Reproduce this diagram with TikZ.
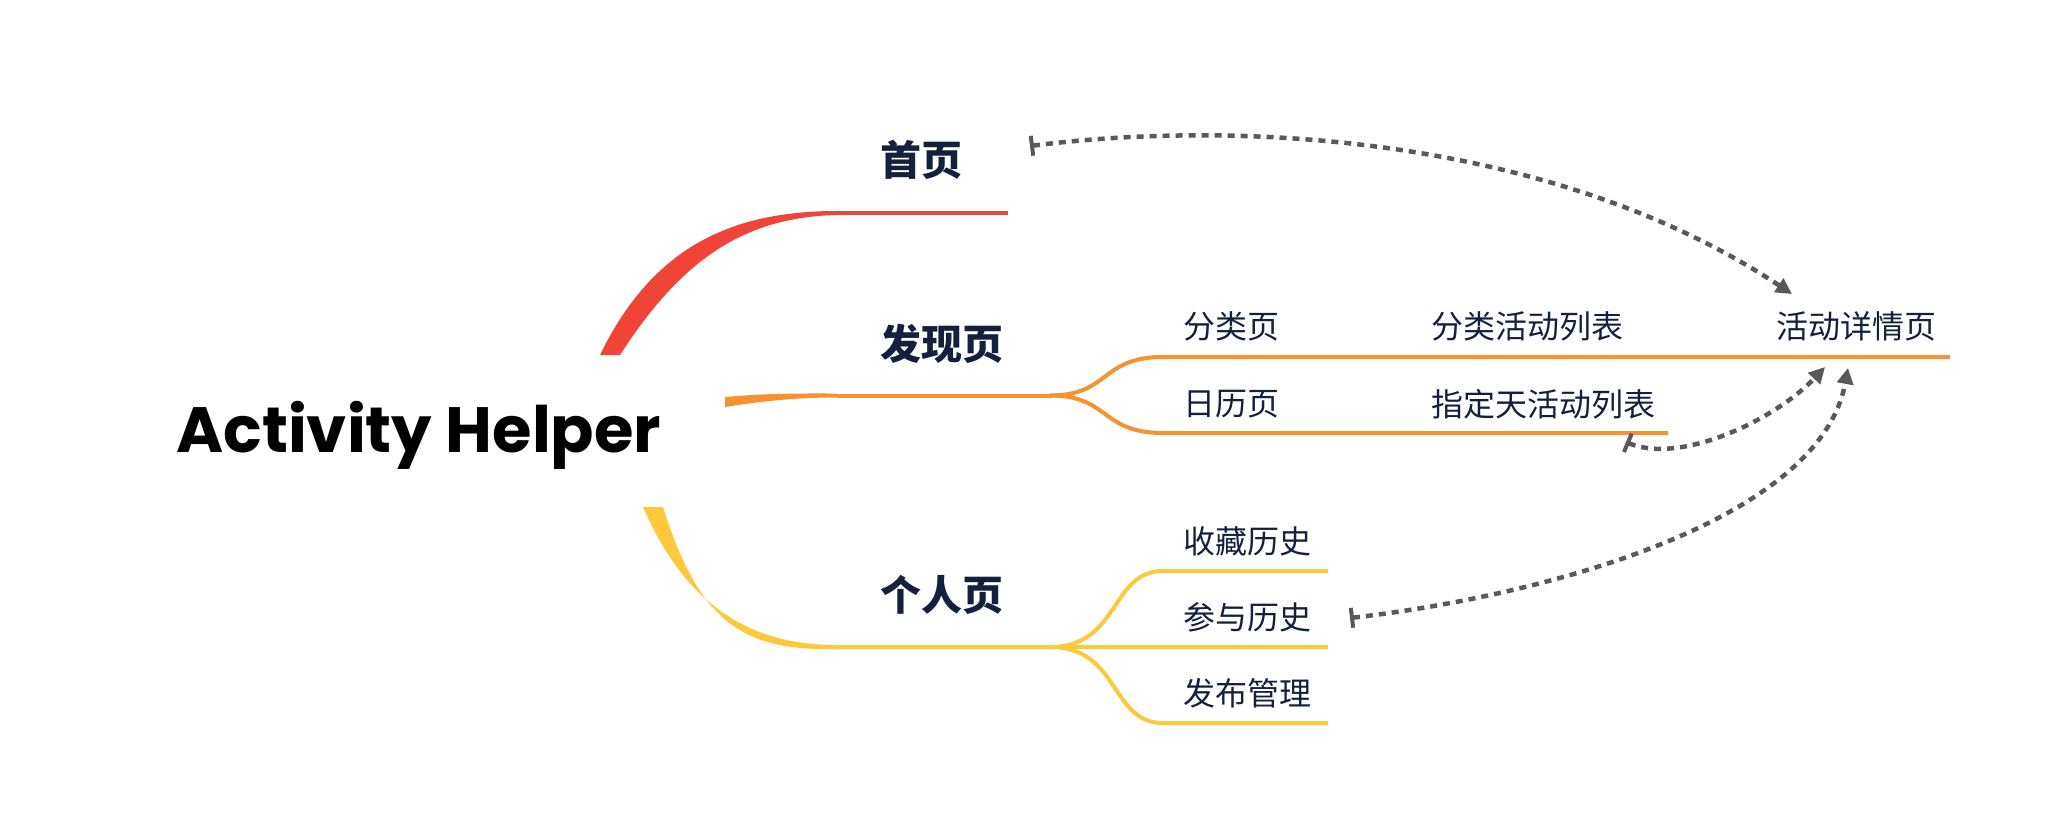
\documentclass[tikz,border=0pt]{standalone}
\usepackage{fontspec}
\setmainfont{Poppins}
\newfontfamily\cjk{Noto Sans CJK SC}
\usetikzlibrary{positioning}
\usetikzlibrary{arrows.meta}
\definecolor{mmred}{HTML}{F04438}
\definecolor{mmorange}{HTML}{F7922F}
\definecolor{mmyellow}{HTML}{FDC93C}
\definecolor{mmtext}{HTML}{13213C}
\definecolor{mmgray}{HTML}{595959}

\begin{document}
\begin{tikzpicture}
[
x=1pt, y=-1pt,
main/.style={inner sep=0pt, anchor=west, text=mmtext, font=\cjk\bfseries\fontsize{41}{46}\selectfont},
sub/.style={inner sep=0pt, anchor=west, text=mmtext, font=\cjk\fontsize{32}{36}\selectfont},
branch/.style={line width=4pt},
link/.style={draw=mmgray, line width=4.5pt, dash pattern=on 7pt off 6pt, {Bar[width=20pt,length=4pt,line width=4pt]}-{Triangle[length=16pt,width=16pt]}},
]
\useasboundingbox (0,0) rectangle (2061,839);
% centre
\node (root) [inner sep=0pt, anchor=base west, font=\bfseries\fontsize{64}{70}\selectfont] at (176,452) {Activity Helper};
% first level
\node (home) [main] at (880,160) {首页};
\node (find) [main] at (880,344) {发现页};
\node (me)   [main] at (880,595) {个人页};
% second level
\node (cat)      [sub] at (1183,326) {分类页};
\node (catlist)  [sub, right = 152pt of cat] {分类活动列表};
\node (detail)   [sub, right = 152pt of catlist] {活动详情页};
\node (cal)      [sub] at (1183,404) {日历页};
\node (daylist)  [sub, right = 152pt of cal] {指定天活动列表};
\node (fav)      [sub] at (1183,541) {收藏历史};
\node (joined)   [sub] at (1183,617) {参与历史};
\node (publish)  [sub] at (1183,693) {发布管理};
% branches
\fill [mmred] (600,355) .. controls (652,248) and (730,211) .. (837,211) -- (837,215) .. controls (742,217) and (680,262) .. (620,355) -- cycle;
\draw [branch, mmred] (837,213) -- (1008,213);
\fill [mmorange] (725,397) .. controls (770,393) and (800,393.5) .. (837,393.5) -- (837,397.5) .. controls (800,397.5) and (770,400) .. (725,407) -- cycle;
\draw [branch, mmorange] (837,395.5) -- (1052,395.5);
\draw [branch, mmorange] (1050,395.5) .. controls (1110,395.5) and (1100,357) .. (1163,357) -- (1950,357);
\draw [branch, mmorange] (1050,395.5) .. controls (1110,395.5) and (1100,433) .. (1163,433) -- (1668,433);
\fill [mmyellow] (643,507) .. controls (690,615) and (760,645) .. (837,645) -- (837,649) .. controls (745,651) and (700,625) .. (663,507) -- cycle;
\draw [branch, mmyellow] (837,647) -- (1328,647);
\draw [branch, mmyellow] (1050,647) .. controls (1120,647) and (1110,571) .. (1163,571) -- (1328,571);
\draw [branch, mmyellow] (1050,647) .. controls (1120,647) and (1110,723) .. (1163,723) -- (1328,723);
% links to the detail page
\coordinate (homeR)    at (1030,146);
\coordinate (detailT)  at (1792,294);
\coordinate (dayR)     at (1626,442);
\coordinate (detailB1) at (1825,367);
\coordinate (joinedR)  at (1350,618);
\coordinate (detailB2) at (1848,368);
\draw [link] (homeR) .. controls (1250,118) and (1560,140) .. (detailT);
\draw [link] (dayR) .. controls (1680,465) and (1775,420) .. (detailB1);
\draw [link] (joinedR) .. controls (1550,595) and (1820,520) .. (detailB2);
\end{tikzpicture}
\end{document}
